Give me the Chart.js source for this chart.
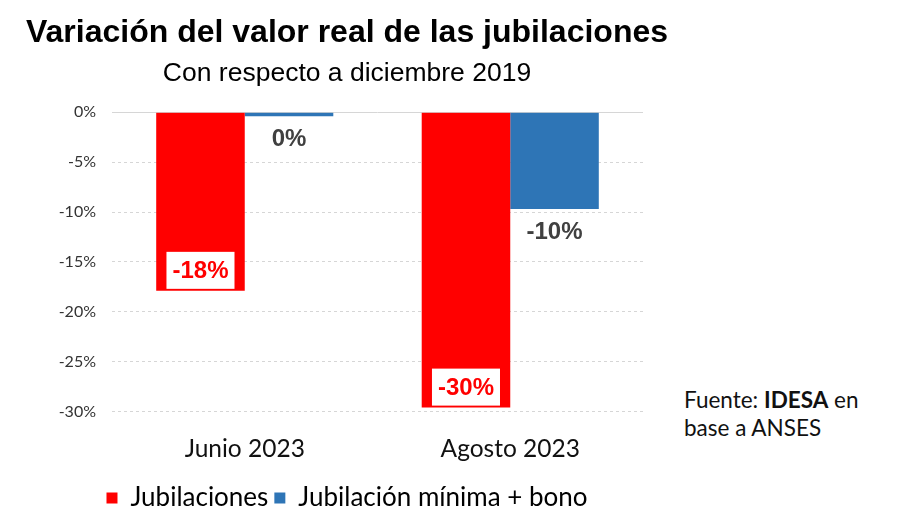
<!DOCTYPE html>
<html>
<head>
<meta charset="utf-8">
<script src="https://cdn.jsdelivr.net/npm/chart.js@4"></script>
<style>
  body { margin: 0; background: #fff; }
  #caja { position: absolute; left: 0; top: 0; width: 674px; height: 525px; }
  #fuente {
    position: absolute; left: 684px; top: 386px;
    font-family: Lato, "Open Sans", sans-serif; font-size: 22.5px; line-height: 28px; color: #111;
  }
</style>
</head>
<body>
<div id="caja"><canvas id="grafico"></canvas></div>
<div id="fuente">Fuente: <b>IDESA</b> en<br>base a ANSES</div>
<script>
var categorias = ["Junio 2023", "Agosto 2023"];
var jubilaciones = [-17.9, -29.6];
var jubilacionMinima = [-0.4, -9.7];
var ticksY = [0, -5, -10, -15, -20, -25, -30];

// etiquetas de valor dibujadas sobre las barras
var etiquetas = {
    id: "etiquetas",
    afterDatasetsDraw: function (chart) {
        var ctx = chart.ctx;
        ctx.save();
        ctx.font = "bold 24px 'Liberation Sans', Arial, sans-serif";
        ctx.textAlign = "center";
        ctx.textBaseline = "middle";
        chart.data.datasets.forEach(function (ds, i) {
            var meta = chart.getDatasetMeta(i);
            meta.data.forEach(function (barra, j) {
                var texto = Math.round(ds.data[j]) + "%";
                if (texto == "-0%") texto = "0%";
                if (i == 0) {
                    var w = ctx.measureText(texto).width + 12;
                    var alto = 37;
                    var abajo = barra.y - 2;
                    ctx.fillStyle = "#ffffff";
                    ctx.fillRect(barra.x - w / 2, abajo - alto, w, alto);
                    ctx.fillStyle = "#ff0000";
                    ctx.fillText(texto, barra.x, abajo - alto / 2 + 1);
                } else {
                    ctx.fillStyle = "#404040";
                    ctx.fillText(texto, barra.x, barra.y + 23);
                }
            });
        });
        ctx.restore();
    }
};

var ctx = document.getElementById("grafico").getContext("2d");

new Chart(ctx, {
    type: "bar",
    data: {
        labels: categorias,
        datasets: [{
            label: "Jubilaciones",
            data: jubilaciones,
            backgroundColor: "#ff0000"
        }, {
            label: "Jubilación mínima + bono",
            data: jubilacionMinima,
            backgroundColor: "#2e75b6"
        }]
    },
    options: {
        responsive: true,
        maintainAspectRatio: false,
        animation: false,
        layout: { padding: { left: 20, right: 0, bottom: 4 } },
        datasets: { bar: { categoryPercentage: 0.667, barPercentage: 1 } },
        plugins: {
            title: {
                display: true,
                text: "Variación del valor real de las jubilaciones",
                color: "#000",
                font: { family: "'Liberation Sans', Arial, sans-serif", size: 32, weight: "bold" },
                padding: { top: 14, bottom: 0 }
            },
            subtitle: {
                display: true,
                text: "Con respecto a diciembre 2019",
                color: "#000",
                font: { family: "'Liberation Sans', Arial, sans-serif", size: 26.5 },
                padding: { top: 5, bottom: 23 }
            },
            legend: {
                position: "bottom",
                labels: {
                    boxWidth: 11,
                    boxHeight: 11,
                    padding: 6,
                    color: "#000",
                    font: { family: "Lato, sans-serif", size: 26 }
                }
            },
            tooltip: { enabled: false }
        },
        scales: {
            x: {
                grid: { display: false },
                border: { display: false },
                ticks: {
                    color: "#111",
                    padding: 15,
                    font: { family: "Lato, sans-serif", size: 24.5 }
                }
            },
            y: {
                min: -30,
                max: 0,
                afterBuildTicks: function (eje) {
                    eje.ticks = ticksY.map(function (v) { return { value: v }; });
                },
                afterFit: function (eje) { eje.width = 92; },
                border: {
                    display: false,
                    dash: function (c) {
                        return c.tick && c.tick.value === 0 ? [] : [3, 3];
                    }
                },
                grid: {
                    drawTicks: false,
                    color: "#d6d6d6",
                    lineWidth: 1
                },
                ticks: {
                    color: "#333",
                    padding: 16,
                    font: { family: "Lato, sans-serif", size: 16 },
                    callback: function (v) { return v + "%"; }
                }
            },
            // eje vacío a la derecha para dejar espacio
            derecha: {
                type: "linear",
                position: "right",
                grid: { display: false },
                border: { display: false },
                ticks: { display: false },
                afterFit: function (eje) { eje.width = 31; }
            }
        }
    },
    plugins: [etiquetas]
});
</script>
</body>
</html>
